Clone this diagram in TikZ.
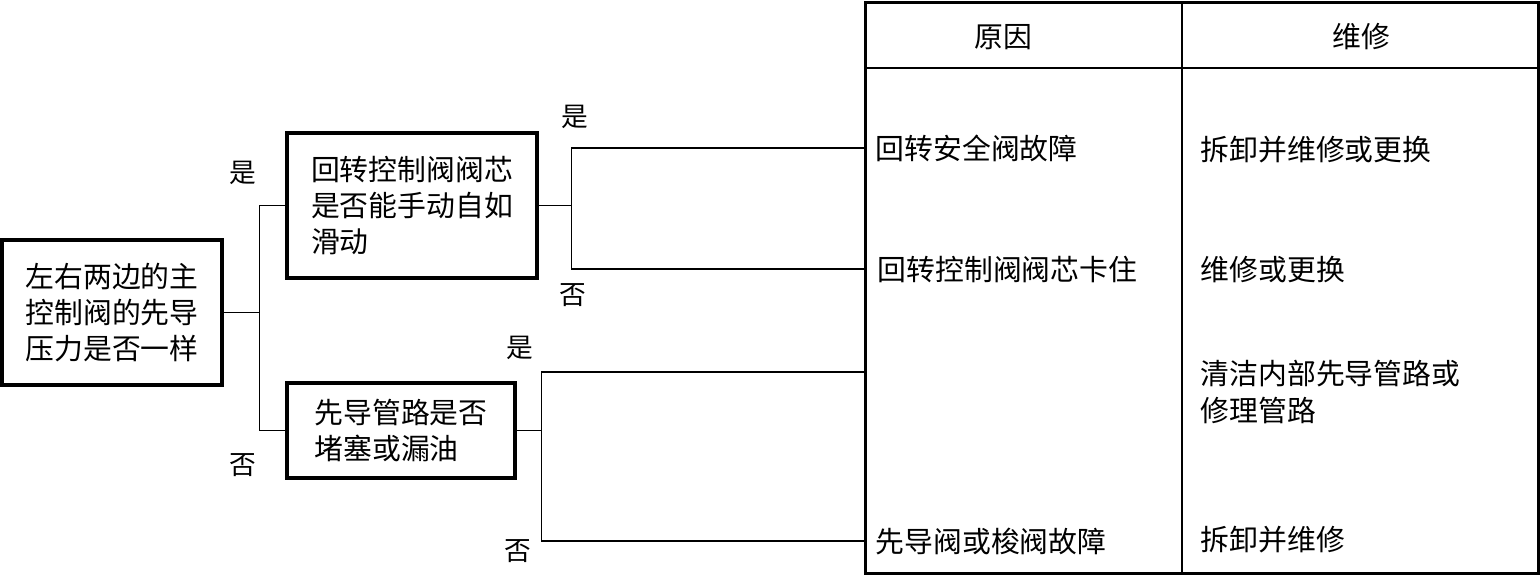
\documentclass[tikz,border=0pt]{standalone}
\usepackage{fontspec}
\newfontfamily\cjk{Noto Sans CJK SC}
\usetikzlibrary{positioning}

\begin{document}
\begin{tikzpicture}[
    x=0.01cm, y=-0.01cm,
    font=\cjk\fontsize{8.2}{10.3}\selectfont,
    qbox/.style={draw, line width=0.9pt, inner sep=0pt, align=left},
    ln/.style={line width=0.45pt},
    yn/.style={inner sep=0pt, font=\cjk\fontsize{7.6}{9}\selectfont},
    cell/.style={anchor=west, inner sep=0pt, align=left},
    grid/.style={line width=0.7pt}
  ]
    \useasboundingbox (0,0) rectangle (1540,575);
    % question boxes
    \node[qbox, minimum width=2.2cm, minimum height=1.45cm] (q1) at (112,312.5) {左右两边的主\\控制阀的先导\\压力是否一样};
    \node[qbox, minimum width=2.5cm, minimum height=1.45cm] (q2) at (412,205.5) {回转控制阀阀芯\\是否能手动自如\\滑动};
    \node[qbox, minimum width=2.28cm, minimum height=0.95cm] (q3) at (401,430.5) {先导管路是否\\堵塞或漏油};
    % table
    \coordinate (tl) at (865,2);
    \coordinate (br) at (1538,573);
    \draw[line width=0.85pt] (tl) rectangle (br);
    \draw[grid] (1182,2) -- (1182,573);
    \draw[grid] (865,68) -- (1538,68);
    \node (h1) at (1003,37) {原因};
    \node (h2) at (1361,37) {维修};
    \node[cell] (c1) at (875,148) {回转安全阀故障};
    \node[cell] (c2) at (877,269) {回转控制阀阀芯卡住};
    \node[cell] (c4) at (875,541) {先导阀或梭阀故障};
    \node[cell] (r1) at (1200,150) {拆卸并维修或更换};
    \node[cell] (r2) at (1200,270) {维修或更换};
    \node[cell] (r3) at (1200,392) {清洁内部先导管路或\\修理管路};
    \node[cell] (r4) at (1200,540) {拆卸并维修};
    \coordinate (e3) at (865,372);
    % connectors
    \draw[ln] (q1.east) -- ++(36,0) coordinate (j1);
    \draw[ln] (q2.west) -| (j1) |- (q3.west);
    \draw[ln] (q2.east) -- ++(33,0) coordinate (j2);
    \draw[ln] (c1.west -| tl) -| (j2) |- (c2.west -| tl);
    \draw[ln] (q3.east) -- ++(25,0) coordinate (j3);
    \draw[ln] (e3) -| (j3) |- (c4.west -| tl);
    % yes / no
    \node[yn] (y1) at (243,173) {是};
    \node[yn] (n1) at (243,465) {否};
    \node[yn] (y2) at (575,117) {是};
    \node[yn] (n2) at (573,295) {否};
    \node[yn] (y3) at (520,348) {是};
    \node[yn] (n3) at (518,551) {否};
\end{tikzpicture}
\end{document}
